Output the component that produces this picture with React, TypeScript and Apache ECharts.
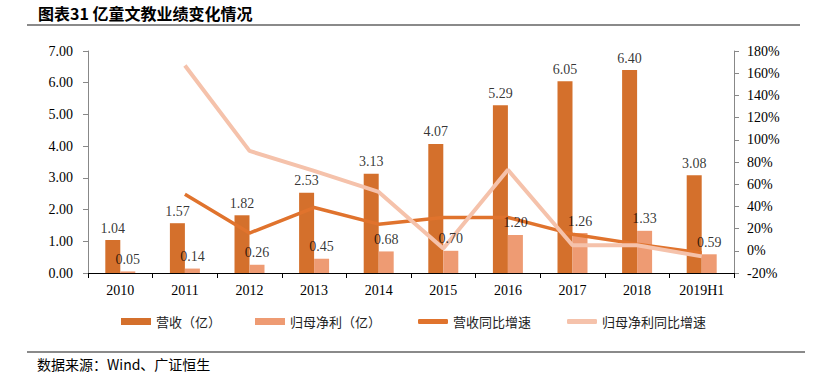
import React, { useEffect, useRef } from "react";
import * as echarts from "echarts";

const categories = ["2010", "2011", "2012", "2013", "2014", "2015", "2016", "2017", "2018", "2019H1"];
const revenue = [1.04, 1.57, 1.82, 2.53, 3.13, 4.07, 5.29, 6.05, 6.4, 3.08];
const netProfit = [0.05, 0.14, 0.26, 0.45, 0.68, 0.7, 1.2, 1.26, 1.33, 0.59];
const revenueGrowth = [null, 51, 16, 39, 24, 30, 30, 15, 6, -2];
const netGrowth = [null, 167, 90, 72, 53, 2, 73, 5, 5, -5];

const seriesNames = ["营收（亿）", "归母净利（亿）", "营收同比增速", "归母净利同比增速"];
const titleText = "图表31 亿童文教业绩变化情况";
const sourceText = "数据来源：Wind、广证恒生";

const SERIF = "'Liberation Serif', 'Times New Roman', serif";
const CJK = "'Noto Sans CJK SC', sans-serif";

const REV_COLOR = "#D4702C";
const NET_COLOR = "#EE9B73";
const REV_LINE = "#E0732D";
const NET_LINE = "#F5C2AB";

export default function App() {
  const ref = useRef<HTMLDivElement>(null);
  useEffect(() => {
    if (!ref.current) return;
    const chart = echarts.init(ref.current, undefined, { renderer: "svg" });
    const labelFor = (dx: number) => ({
      show: true,
      position: "top",
      distance: 5,
      offset: [dx, 0],
      color: "#000",
      fontFamily: SERIF,
      fontSize: 14,
      formatter: (p: any) => Number(p.value).toFixed(2),
    });
    const legendLefts = [121, 255, 418, 567];
    const legendIcons = ["rect", "rect", "roundRect", "roundRect"];
    chart.setOption({
      animation: false,
      backgroundColor: "#fff",
      grid: { left: 88, right: 81, top: 51, height: 222, containLabel: false },
      legend: seriesNames.map((n, i) => ({
        left: legendLefts[i],
        top: 315,
        padding: 0,
        itemWidth: 30,
        itemHeight: i < 2 ? 7 : 5,
        icon: legendIcons[i],
        textStyle: { fontFamily: CJK, fontSize: 13, color: "#222" },
        data: [n],
      })),
      xAxis: {
        type: "category",
        data: categories,
        boundaryGap: true,
        axisLine: { lineStyle: { color: "#000", width: 1 } },
        axisTick: { show: true, alignWithLabel: false, length: 5, lineStyle: { color: "#000" } },
        axisLabel: { color: "#000", fontFamily: SERIF, fontSize: 14, margin: 10 },
      },
      yAxis: [
        {
          type: "value",
          min: 0,
          max: 7,
          interval: 1,
          splitLine: { show: false },
          axisLine: { show: true, lineStyle: { color: "#888", width: 1 } },
          axisTick: { show: true, length: 5, lineStyle: { color: "#888" } },
          axisLabel: {
            color: "#000",
            fontFamily: SERIF,
            fontSize: 14,
            margin: 15,
            formatter: (v: number) => v.toFixed(2),
          },
        },
        {
          type: "value",
          min: -20,
          max: 180,
          interval: 20,
          position: "right",
          splitLine: { show: false },
          axisLine: { show: true, lineStyle: { color: "#888", width: 1 } },
          axisTick: { show: true, length: 5, lineStyle: { color: "#888" } },
          axisLabel: {
            color: "#000",
            fontFamily: SERIF,
            fontSize: 14,
            margin: 13,
            formatter: (v: number) => `${v}%`,
          },
        },
      ],
      series: [
        {
          name: seriesNames[0],
          type: "bar",
          data: revenue,
          barWidth: 15,
          barGap: "0%",
          itemStyle: { color: REV_COLOR },
        },
        {
          name: seriesNames[1],
          type: "bar",
          data: netProfit,
          barWidth: 15,
          barGap: "0%",
          itemStyle: { color: NET_COLOR },
        },
        {
          name: seriesNames[2],
          type: "line",
          yAxisIndex: 1,
          data: revenueGrowth,
          symbol: "none",
          lineStyle: { color: REV_LINE, width: 3.5 },
          itemStyle: { color: REV_LINE },
        },
        {
          name: seriesNames[3],
          type: "line",
          yAxisIndex: 1,
          data: netGrowth,
          symbol: "none",
          lineStyle: { color: NET_LINE, width: 4 },
          itemStyle: { color: NET_LINE },
        },
        {
          name: "revLabels",
          type: "scatter",
          data: revenue,
          symbolSize: 0,
          z: 10,
          silent: true,
          label: labelFor(-7.5),
        },
        {
          name: "netLabels",
          type: "scatter",
          data: netProfit,
          symbolSize: 0,
          z: 10,
          silent: true,
          label: labelFor(7.5),
        },
      ],
      graphic: [
        {
          type: "text",
          left: 38,
          top: 5,
          style: { text: titleText, fontFamily: CJK, fontWeight: "bold", fontSize: 16, fill: "#000" },
        },
        {
          type: "line",
          shape: { x1: 27, y1: 25, x2: 800, y2: 25 },
          style: { stroke: "#8a8a8a", lineWidth: 2 },
        },
        {
          type: "line",
          shape: { x1: 27, y1: 352, x2: 805, y2: 352 },
          style: { stroke: "#8a8a8a", lineWidth: 2 },
        },
        {
          type: "text",
          left: 37,
          top: 357,
          style: { text: sourceText, fontFamily: CJK, fontSize: 14, fill: "#000" },
        },
      ],
    });
    return () => chart.dispose();
  }, []);
  return (
    <div
      ref={ref}
      style={{ position: "fixed", left: 0, top: 0, width: 815, height: 375 }}
    />
  );
}
